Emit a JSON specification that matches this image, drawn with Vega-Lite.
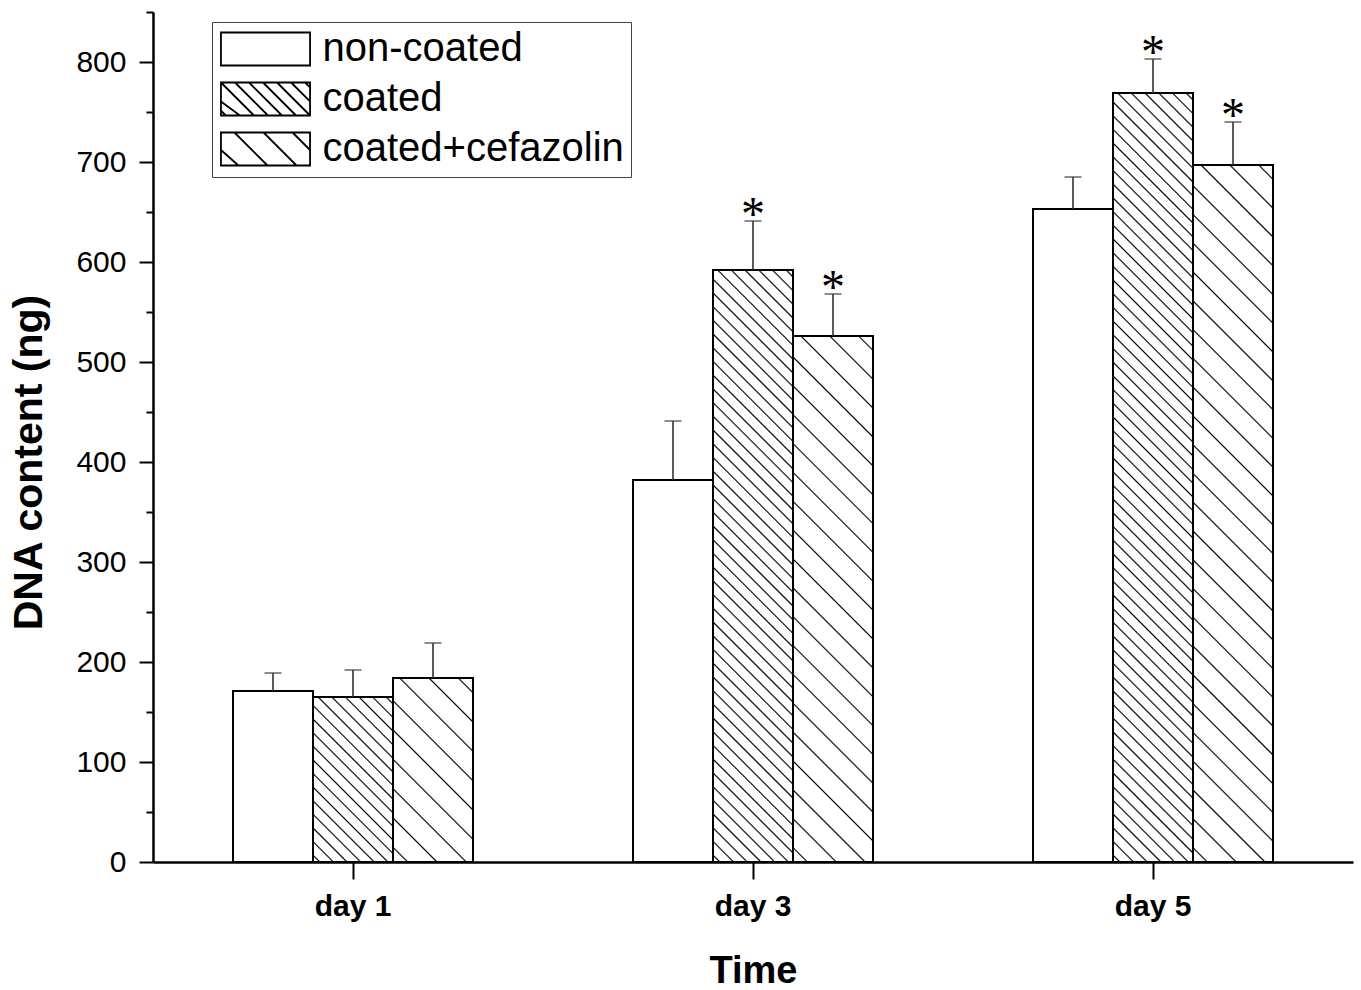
{
"$schema": "https://vega.github.io/schema/vega-lite/v6.json",
"width": 1200, "height": 850,
"autosize": "none",
"padding": {"left": 153, "top": 12, "right": 8, "bottom": 128},
"background": "white",
"config": {"view": {"stroke": null}, "font": "Liberation Sans"},
"data": {"values": [
{"day": "day 1", "series": "non-coated", "value": 171, "upper": 189, "sig": false},
{"day": "day 1", "series": "coated", "value": 165, "upper": 192, "sig": false},
{"day": "day 1", "series": "coated+cefazolin", "value": 184, "upper": 219, "sig": false},
{"day": "day 3", "series": "non-coated", "value": 382, "upper": 441, "sig": false},
{"day": "day 3", "series": "coated", "value": 592, "upper": 641, "sig": true},
{"day": "day 3", "series": "coated+cefazolin", "value": 526, "upper": 568, "sig": true},
{"day": "day 5", "series": "non-coated", "value": 653, "upper": 685, "sig": false},
{"day": "day 5", "series": "coated", "value": 769, "upper": 803, "sig": true},
{"day": "day 5", "series": "coated+cefazolin", "value": 697, "upper": 740, "sig": true}
]},
"encoding": {
  "x": {"field": "day", "type": "nominal", "scale": {"paddingInner": 0, "paddingOuter": 0},
    "axis": {"title": "Time", "labelAngle": 0, "labelFont": "Liberation Sans", "labelFontSize": 30, "labelFontWeight": "bold", "labelColor": "black", "labelPadding": 12, "tickSize": 17, "tickWidth": 2, "tickColor": "black", "domainColor": "black", "domainWidth": 2.5, "titleFont": "Liberation Sans", "titleFontSize": 38, "titleFontWeight": "bold", "titleColor": "black", "titleY": 120, "titleBaseline": "alphabetic", "grid": false}},
  "xOffset": {"field": "series", "type": "nominal", "scale": {"domain": ["non-coated", "coated", "coated+cefazolin"], "paddingInner": 0, "paddingOuter": 1}},
  "y": {"field": "value", "type": "quantitative", "scale": {"domain": [0, 850], "nice": false},
    "axis": {"title": "DNA content (ng)", "values": [0,50,100,150,200,250,300,350,400,450,500,550,600,650,700,750,800,850],
      "labelExpr": "datum.value % 100 === 0 ? datum.label : ''",
      "tickSize": {"condition": {"test": "datum.value % 100 === 0", "value": 14}, "value": 7},
      "labelPadding": 13, "labelFont": "Liberation Sans", "labelFontSize": 30, "labelColor": "black", "labelOverlap": false, "labelFlush": false,
      "domainColor": "black", "domainWidth": 2.5, "tickColor": "black", "tickWidth": 2, "grid": false,
      "titleFont": "Liberation Sans", "titleFontSize": 41, "titleFontWeight": "bold", "titleColor": "black",
      "titleAngle": 270, "titleBaseline": "alphabetic", "titleAlign": "center", "titleX": -112, "titleY": 450}}
},
"layer": [
{"mark": {"type": "bar", "fill": "white", "stroke": "black", "strokeWidth": 2}},
{"transform": [{"filter": "datum.day == 'day 1' && datum.series == 'coated'"}],
 "mark": {"type": "bar", "stroke": "black", "strokeWidth": 2, "fill": {"gradient": "linear", "x1": 0, "y1": 1, "x2": 0.5829, "y2": -0.2022, "stops": [
{"offset":0.0213,"color":"#fff"},{"offset":0.0278,"color":"#000"},{"offset":0.0343,"color":"#fff"},
{"offset":0.0768,"color":"#fff"},{"offset":0.0833,"color":"#000"},{"offset":0.0898,"color":"#fff"},
{"offset":0.1324,"color":"#fff"},{"offset":0.1389,"color":"#000"},{"offset":0.1454,"color":"#fff"},
{"offset":0.1879,"color":"#fff"},{"offset":0.1944,"color":"#000"},{"offset":0.2009,"color":"#fff"},
{"offset":0.2435,"color":"#fff"},{"offset":0.25,"color":"#000"},{"offset":0.2565,"color":"#fff"},
{"offset":0.2991,"color":"#fff"},{"offset":0.3056,"color":"#000"},{"offset":0.3121,"color":"#fff"},
{"offset":0.3546,"color":"#fff"},{"offset":0.3611,"color":"#000"},{"offset":0.3676,"color":"#fff"},
{"offset":0.4102,"color":"#fff"},{"offset":0.4167,"color":"#000"},{"offset":0.4232,"color":"#fff"},
{"offset":0.4657,"color":"#fff"},{"offset":0.4722,"color":"#000"},{"offset":0.4787,"color":"#fff"},
{"offset":0.5213,"color":"#fff"},{"offset":0.5278,"color":"#000"},{"offset":0.5343,"color":"#fff"},
{"offset":0.5768,"color":"#fff"},{"offset":0.5833,"color":"#000"},{"offset":0.5898,"color":"#fff"},
{"offset":0.6324,"color":"#fff"},{"offset":0.6389,"color":"#000"},{"offset":0.6454,"color":"#fff"},
{"offset":0.6879,"color":"#fff"},{"offset":0.6944,"color":"#000"},{"offset":0.7009,"color":"#fff"},
{"offset":0.7435,"color":"#fff"},{"offset":0.75,"color":"#000"},{"offset":0.7565,"color":"#fff"},
{"offset":0.7991,"color":"#fff"},{"offset":0.8056,"color":"#000"},{"offset":0.8121,"color":"#fff"},
{"offset":0.8546,"color":"#fff"},{"offset":0.8611,"color":"#000"},{"offset":0.8676,"color":"#fff"},
{"offset":0.9102,"color":"#fff"},{"offset":0.9167,"color":"#000"},{"offset":0.9232,"color":"#fff"},
{"offset":0.9657,"color":"#fff"},{"offset":0.9722,"color":"#000"},{"offset":0.9787,"color":"#fff"}
]}}},
{"transform": [{"filter": "datum.day == 'day 3' && datum.series == 'coated'"}],
 "mark": {"type": "bar", "stroke": "black", "strokeWidth": 2, "fill": {"gradient": "linear", "x1": 0, "y1": 1, "x2": 0.150646, "y2": -0.114783, "stops": [
{"offset":0.0078,"color":"#fff"},{"offset":0.0102,"color":"#000"},{"offset":0.0126,"color":"#fff"},
{"offset":0.0282,"color":"#fff"},{"offset":0.0306,"color":"#000"},{"offset":0.0330,"color":"#fff"},
{"offset":0.0486,"color":"#fff"},{"offset":0.0510,"color":"#000"},{"offset":0.0534,"color":"#fff"},
{"offset":0.0690,"color":"#fff"},{"offset":0.0714,"color":"#000"},{"offset":0.0738,"color":"#fff"},
{"offset":0.0894,"color":"#fff"},{"offset":0.0918,"color":"#000"},{"offset":0.0942,"color":"#fff"},
{"offset":0.1098,"color":"#fff"},{"offset":0.1122,"color":"#000"},{"offset":0.1146,"color":"#fff"},
{"offset":0.1303,"color":"#fff"},{"offset":0.1327,"color":"#000"},{"offset":0.1351,"color":"#fff"},
{"offset":0.1507,"color":"#fff"},{"offset":0.1531,"color":"#000"},{"offset":0.1555,"color":"#fff"},
{"offset":0.1711,"color":"#fff"},{"offset":0.1735,"color":"#000"},{"offset":0.1759,"color":"#fff"},
{"offset":0.1915,"color":"#fff"},{"offset":0.1939,"color":"#000"},{"offset":0.1963,"color":"#fff"},
{"offset":0.2119,"color":"#fff"},{"offset":0.2143,"color":"#000"},{"offset":0.2167,"color":"#fff"},
{"offset":0.2323,"color":"#fff"},{"offset":0.2347,"color":"#000"},{"offset":0.2371,"color":"#fff"},
{"offset":0.2527,"color":"#fff"},{"offset":0.2551,"color":"#000"},{"offset":0.2575,"color":"#fff"},
{"offset":0.2731,"color":"#fff"},{"offset":0.2755,"color":"#000"},{"offset":0.2779,"color":"#fff"},
{"offset":0.2935,"color":"#fff"},{"offset":0.2959,"color":"#000"},{"offset":0.2983,"color":"#fff"},
{"offset":0.3139,"color":"#fff"},{"offset":0.3163,"color":"#000"},{"offset":0.3187,"color":"#fff"},
{"offset":0.3343,"color":"#fff"},{"offset":0.3367,"color":"#000"},{"offset":0.3391,"color":"#fff"},
{"offset":0.3547,"color":"#fff"},{"offset":0.3571,"color":"#000"},{"offset":0.3595,"color":"#fff"},
{"offset":0.3752,"color":"#fff"},{"offset":0.3776,"color":"#000"},{"offset":0.3800,"color":"#fff"},
{"offset":0.3956,"color":"#fff"},{"offset":0.3980,"color":"#000"},{"offset":0.4004,"color":"#fff"},
{"offset":0.4160,"color":"#fff"},{"offset":0.4184,"color":"#000"},{"offset":0.4208,"color":"#fff"},
{"offset":0.4364,"color":"#fff"},{"offset":0.4388,"color":"#000"},{"offset":0.4412,"color":"#fff"},
{"offset":0.4568,"color":"#fff"},{"offset":0.4592,"color":"#000"},{"offset":0.4616,"color":"#fff"},
{"offset":0.4772,"color":"#fff"},{"offset":0.4796,"color":"#000"},{"offset":0.4820,"color":"#fff"},
{"offset":0.4976,"color":"#fff"},{"offset":0.5000,"color":"#000"},{"offset":0.5024,"color":"#fff"},
{"offset":0.5180,"color":"#fff"},{"offset":0.5204,"color":"#000"},{"offset":0.5228,"color":"#fff"},
{"offset":0.5384,"color":"#fff"},{"offset":0.5408,"color":"#000"},{"offset":0.5432,"color":"#fff"},
{"offset":0.5588,"color":"#fff"},{"offset":0.5612,"color":"#000"},{"offset":0.5636,"color":"#fff"},
{"offset":0.5792,"color":"#fff"},{"offset":0.5816,"color":"#000"},{"offset":0.5840,"color":"#fff"},
{"offset":0.5996,"color":"#fff"},{"offset":0.6020,"color":"#000"},{"offset":0.6044,"color":"#fff"},
{"offset":0.6200,"color":"#fff"},{"offset":0.6224,"color":"#000"},{"offset":0.6248,"color":"#fff"},
{"offset":0.6405,"color":"#fff"},{"offset":0.6429,"color":"#000"},{"offset":0.6453,"color":"#fff"},
{"offset":0.6609,"color":"#fff"},{"offset":0.6633,"color":"#000"},{"offset":0.6657,"color":"#fff"},
{"offset":0.6813,"color":"#fff"},{"offset":0.6837,"color":"#000"},{"offset":0.6861,"color":"#fff"},
{"offset":0.7017,"color":"#fff"},{"offset":0.7041,"color":"#000"},{"offset":0.7065,"color":"#fff"},
{"offset":0.7221,"color":"#fff"},{"offset":0.7245,"color":"#000"},{"offset":0.7269,"color":"#fff"},
{"offset":0.7425,"color":"#fff"},{"offset":0.7449,"color":"#000"},{"offset":0.7473,"color":"#fff"},
{"offset":0.7629,"color":"#fff"},{"offset":0.7653,"color":"#000"},{"offset":0.7677,"color":"#fff"},
{"offset":0.7833,"color":"#fff"},{"offset":0.7857,"color":"#000"},{"offset":0.7881,"color":"#fff"},
{"offset":0.8037,"color":"#fff"},{"offset":0.8061,"color":"#000"},{"offset":0.8085,"color":"#fff"},
{"offset":0.8241,"color":"#fff"},{"offset":0.8265,"color":"#000"},{"offset":0.8289,"color":"#fff"},
{"offset":0.8445,"color":"#fff"},{"offset":0.8469,"color":"#000"},{"offset":0.8493,"color":"#fff"},
{"offset":0.8649,"color":"#fff"},{"offset":0.8673,"color":"#000"},{"offset":0.8697,"color":"#fff"},
{"offset":0.8854,"color":"#fff"},{"offset":0.8878,"color":"#000"},{"offset":0.8902,"color":"#fff"},
{"offset":0.9058,"color":"#fff"},{"offset":0.9082,"color":"#000"},{"offset":0.9106,"color":"#fff"},
{"offset":0.9262,"color":"#fff"},{"offset":0.9286,"color":"#000"},{"offset":0.9310,"color":"#fff"},
{"offset":0.9466,"color":"#fff"},{"offset":0.9490,"color":"#000"},{"offset":0.9514,"color":"#fff"},
{"offset":0.9670,"color":"#fff"},{"offset":0.9694,"color":"#000"},{"offset":0.9718,"color":"#fff"},
{"offset":0.9874,"color":"#fff"},{"offset":0.9898,"color":"#000"},{"offset":0.9922,"color":"#fff"}
]}}},
{"transform": [{"filter": "datum.day == 'day 5' && datum.series == 'coated'"}],
 "mark": {"type": "bar", "stroke": "black", "strokeWidth": 2, "fill": {"gradient": "linear", "x1": 0, "y1": 1, "x2": 0.113624, "y2": -0.092211, "stops": [
{"offset":0.0062,"color":"#fff"},{"offset":0.0081,"color":"#000"},{"offset":0.0100,"color":"#fff"},
{"offset":0.0223,"color":"#fff"},{"offset":0.0242,"color":"#000"},{"offset":0.0261,"color":"#fff"},
{"offset":0.0384,"color":"#fff"},{"offset":0.0403,"color":"#000"},{"offset":0.0422,"color":"#fff"},
{"offset":0.0546,"color":"#fff"},{"offset":0.0565,"color":"#000"},{"offset":0.0584,"color":"#fff"},
{"offset":0.0707,"color":"#fff"},{"offset":0.0726,"color":"#000"},{"offset":0.0745,"color":"#fff"},
{"offset":0.0868,"color":"#fff"},{"offset":0.0887,"color":"#000"},{"offset":0.0906,"color":"#fff"},
{"offset":0.1029,"color":"#fff"},{"offset":0.1048,"color":"#000"},{"offset":0.1067,"color":"#fff"},
{"offset":0.1191,"color":"#fff"},{"offset":0.1210,"color":"#000"},{"offset":0.1229,"color":"#fff"},
{"offset":0.1352,"color":"#fff"},{"offset":0.1371,"color":"#000"},{"offset":0.1390,"color":"#fff"},
{"offset":0.1513,"color":"#fff"},{"offset":0.1532,"color":"#000"},{"offset":0.1551,"color":"#fff"},
{"offset":0.1675,"color":"#fff"},{"offset":0.1694,"color":"#000"},{"offset":0.1713,"color":"#fff"},
{"offset":0.1836,"color":"#fff"},{"offset":0.1855,"color":"#000"},{"offset":0.1874,"color":"#fff"},
{"offset":0.1997,"color":"#fff"},{"offset":0.2016,"color":"#000"},{"offset":0.2035,"color":"#fff"},
{"offset":0.2158,"color":"#fff"},{"offset":0.2177,"color":"#000"},{"offset":0.2196,"color":"#fff"},
{"offset":0.2320,"color":"#fff"},{"offset":0.2339,"color":"#000"},{"offset":0.2358,"color":"#fff"},
{"offset":0.2481,"color":"#fff"},{"offset":0.2500,"color":"#000"},{"offset":0.2519,"color":"#fff"},
{"offset":0.2642,"color":"#fff"},{"offset":0.2661,"color":"#000"},{"offset":0.2680,"color":"#fff"},
{"offset":0.2804,"color":"#fff"},{"offset":0.2823,"color":"#000"},{"offset":0.2842,"color":"#fff"},
{"offset":0.2965,"color":"#fff"},{"offset":0.2984,"color":"#000"},{"offset":0.3003,"color":"#fff"},
{"offset":0.3126,"color":"#fff"},{"offset":0.3145,"color":"#000"},{"offset":0.3164,"color":"#fff"},
{"offset":0.3288,"color":"#fff"},{"offset":0.3307,"color":"#000"},{"offset":0.3326,"color":"#fff"},
{"offset":0.3449,"color":"#fff"},{"offset":0.3468,"color":"#000"},{"offset":0.3487,"color":"#fff"},
{"offset":0.3610,"color":"#fff"},{"offset":0.3629,"color":"#000"},{"offset":0.3648,"color":"#fff"},
{"offset":0.3771,"color":"#fff"},{"offset":0.3790,"color":"#000"},{"offset":0.3809,"color":"#fff"},
{"offset":0.3933,"color":"#fff"},{"offset":0.3952,"color":"#000"},{"offset":0.3971,"color":"#fff"},
{"offset":0.4094,"color":"#fff"},{"offset":0.4113,"color":"#000"},{"offset":0.4132,"color":"#fff"},
{"offset":0.4255,"color":"#fff"},{"offset":0.4274,"color":"#000"},{"offset":0.4293,"color":"#fff"},
{"offset":0.4417,"color":"#fff"},{"offset":0.4436,"color":"#000"},{"offset":0.4455,"color":"#fff"},
{"offset":0.4578,"color":"#fff"},{"offset":0.4597,"color":"#000"},{"offset":0.4616,"color":"#fff"},
{"offset":0.4739,"color":"#fff"},{"offset":0.4758,"color":"#000"},{"offset":0.4777,"color":"#fff"},
{"offset":0.4900,"color":"#fff"},{"offset":0.4919,"color":"#000"},{"offset":0.4938,"color":"#fff"},
{"offset":0.5062,"color":"#fff"},{"offset":0.5081,"color":"#000"},{"offset":0.5100,"color":"#fff"},
{"offset":0.5223,"color":"#fff"},{"offset":0.5242,"color":"#000"},{"offset":0.5261,"color":"#fff"},
{"offset":0.5384,"color":"#fff"},{"offset":0.5403,"color":"#000"},{"offset":0.5422,"color":"#fff"},
{"offset":0.5546,"color":"#fff"},{"offset":0.5565,"color":"#000"},{"offset":0.5584,"color":"#fff"},
{"offset":0.5707,"color":"#fff"},{"offset":0.5726,"color":"#000"},{"offset":0.5745,"color":"#fff"},
{"offset":0.5868,"color":"#fff"},{"offset":0.5887,"color":"#000"},{"offset":0.5906,"color":"#fff"},
{"offset":0.6029,"color":"#fff"},{"offset":0.6048,"color":"#000"},{"offset":0.6067,"color":"#fff"},
{"offset":0.6191,"color":"#fff"},{"offset":0.6210,"color":"#000"},{"offset":0.6229,"color":"#fff"},
{"offset":0.6352,"color":"#fff"},{"offset":0.6371,"color":"#000"},{"offset":0.6390,"color":"#fff"},
{"offset":0.6513,"color":"#fff"},{"offset":0.6532,"color":"#000"},{"offset":0.6551,"color":"#fff"},
{"offset":0.6675,"color":"#fff"},{"offset":0.6694,"color":"#000"},{"offset":0.6713,"color":"#fff"},
{"offset":0.6836,"color":"#fff"},{"offset":0.6855,"color":"#000"},{"offset":0.6874,"color":"#fff"},
{"offset":0.6997,"color":"#fff"},{"offset":0.7016,"color":"#000"},{"offset":0.7035,"color":"#fff"},
{"offset":0.7158,"color":"#fff"},{"offset":0.7177,"color":"#000"},{"offset":0.7196,"color":"#fff"},
{"offset":0.7320,"color":"#fff"},{"offset":0.7339,"color":"#000"},{"offset":0.7358,"color":"#fff"},
{"offset":0.7481,"color":"#fff"},{"offset":0.7500,"color":"#000"},{"offset":0.7519,"color":"#fff"},
{"offset":0.7642,"color":"#fff"},{"offset":0.7661,"color":"#000"},{"offset":0.7680,"color":"#fff"},
{"offset":0.7804,"color":"#fff"},{"offset":0.7823,"color":"#000"},{"offset":0.7842,"color":"#fff"},
{"offset":0.7965,"color":"#fff"},{"offset":0.7984,"color":"#000"},{"offset":0.8003,"color":"#fff"},
{"offset":0.8126,"color":"#fff"},{"offset":0.8145,"color":"#000"},{"offset":0.8164,"color":"#fff"},
{"offset":0.8288,"color":"#fff"},{"offset":0.8307,"color":"#000"},{"offset":0.8326,"color":"#fff"},
{"offset":0.8449,"color":"#fff"},{"offset":0.8468,"color":"#000"},{"offset":0.8487,"color":"#fff"},
{"offset":0.8610,"color":"#fff"},{"offset":0.8629,"color":"#000"},{"offset":0.8648,"color":"#fff"},
{"offset":0.8771,"color":"#fff"},{"offset":0.8790,"color":"#000"},{"offset":0.8809,"color":"#fff"},
{"offset":0.8933,"color":"#fff"},{"offset":0.8952,"color":"#000"},{"offset":0.8971,"color":"#fff"},
{"offset":0.9094,"color":"#fff"},{"offset":0.9113,"color":"#000"},{"offset":0.9132,"color":"#fff"},
{"offset":0.9255,"color":"#fff"},{"offset":0.9274,"color":"#000"},{"offset":0.9293,"color":"#fff"},
{"offset":0.9417,"color":"#fff"},{"offset":0.9436,"color":"#000"},{"offset":0.9455,"color":"#fff"},
{"offset":0.9578,"color":"#fff"},{"offset":0.9597,"color":"#000"},{"offset":0.9616,"color":"#fff"},
{"offset":0.9739,"color":"#fff"},{"offset":0.9758,"color":"#000"},{"offset":0.9777,"color":"#fff"},
{"offset":0.9900,"color":"#fff"},{"offset":0.9919,"color":"#000"},{"offset":0.9938,"color":"#fff"}
]}}},
{"transform": [{"filter": "datum.day == 'day 1' && datum.series == 'coated+cefazolin'"}],
 "mark": {"type": "bar", "stroke": "black", "strokeWidth": 2, "fill": {"gradient": "linear", "x1": 0, "y1": 1, "x2": 0.524642, "y2": -0.206678, "stops": [
{"offset":0.0495,"color":"#fff"},{"offset":0.0556,"color":"#000"},{"offset":0.0617,"color":"#fff"},
{"offset":0.1606,"color":"#fff"},{"offset":0.1667,"color":"#000"},{"offset":0.1728,"color":"#fff"},
{"offset":0.2717,"color":"#fff"},{"offset":0.2778,"color":"#000"},{"offset":0.2839,"color":"#fff"},
{"offset":0.3828,"color":"#fff"},{"offset":0.3889,"color":"#000"},{"offset":0.3950,"color":"#fff"},
{"offset":0.4939,"color":"#fff"},{"offset":0.5,"color":"#000"},{"offset":0.5061,"color":"#fff"},
{"offset":0.6050,"color":"#fff"},{"offset":0.6111,"color":"#000"},{"offset":0.6172,"color":"#fff"},
{"offset":0.7161,"color":"#fff"},{"offset":0.7222,"color":"#000"},{"offset":0.7283,"color":"#fff"},
{"offset":0.8272,"color":"#fff"},{"offset":0.8333,"color":"#000"},{"offset":0.8394,"color":"#fff"},
{"offset":0.9383,"color":"#fff"},{"offset":0.9444,"color":"#000"},{"offset":0.9505,"color":"#fff"}
]}}},
{"transform": [{"filter": "datum.day == 'day 3' && datum.series == 'coated+cefazolin'"}],
 "mark": {"type": "bar", "stroke": "black", "strokeWidth": 2, "fill": {"gradient": "linear", "x1": 0, "y1": 1, "x2": 0.171262, "y2": -0.12605, "stops": [
{"offset":0.0212,"color":"#fff"},{"offset":0.0238,"color":"#000"},{"offset":0.0264,"color":"#fff"},
{"offset":0.0688,"color":"#fff"},{"offset":0.0714,"color":"#000"},{"offset":0.0740,"color":"#fff"},
{"offset":0.1164,"color":"#fff"},{"offset":0.1190,"color":"#000"},{"offset":0.1216,"color":"#fff"},
{"offset":0.1641,"color":"#fff"},{"offset":0.1667,"color":"#000"},{"offset":0.1693,"color":"#fff"},
{"offset":0.2117,"color":"#fff"},{"offset":0.2143,"color":"#000"},{"offset":0.2169,"color":"#fff"},
{"offset":0.2593,"color":"#fff"},{"offset":0.2619,"color":"#000"},{"offset":0.2645,"color":"#fff"},
{"offset":0.3069,"color":"#fff"},{"offset":0.3095,"color":"#000"},{"offset":0.3121,"color":"#fff"},
{"offset":0.3545,"color":"#fff"},{"offset":0.3571,"color":"#000"},{"offset":0.3597,"color":"#fff"},
{"offset":0.4022,"color":"#fff"},{"offset":0.4048,"color":"#000"},{"offset":0.4074,"color":"#fff"},
{"offset":0.4498,"color":"#fff"},{"offset":0.4524,"color":"#000"},{"offset":0.4550,"color":"#fff"},
{"offset":0.4974,"color":"#fff"},{"offset":0.5000,"color":"#000"},{"offset":0.5026,"color":"#fff"},
{"offset":0.5450,"color":"#fff"},{"offset":0.5476,"color":"#000"},{"offset":0.5502,"color":"#fff"},
{"offset":0.5926,"color":"#fff"},{"offset":0.5952,"color":"#000"},{"offset":0.5978,"color":"#fff"},
{"offset":0.6403,"color":"#fff"},{"offset":0.6429,"color":"#000"},{"offset":0.6455,"color":"#fff"},
{"offset":0.6879,"color":"#fff"},{"offset":0.6905,"color":"#000"},{"offset":0.6931,"color":"#fff"},
{"offset":0.7355,"color":"#fff"},{"offset":0.7381,"color":"#000"},{"offset":0.7407,"color":"#fff"},
{"offset":0.7831,"color":"#fff"},{"offset":0.7857,"color":"#000"},{"offset":0.7883,"color":"#fff"},
{"offset":0.8307,"color":"#fff"},{"offset":0.8333,"color":"#000"},{"offset":0.8359,"color":"#fff"},
{"offset":0.8784,"color":"#fff"},{"offset":0.8810,"color":"#000"},{"offset":0.8836,"color":"#fff"},
{"offset":0.9260,"color":"#fff"},{"offset":0.9286,"color":"#000"},{"offset":0.9312,"color":"#fff"},
{"offset":0.9736,"color":"#fff"},{"offset":0.9762,"color":"#000"},{"offset":0.9788,"color":"#fff"}
]}}},
{"transform": [{"filter": "datum.day == 'day 5' && datum.series == 'coated+cefazolin'"}],
 "mark": {"type": "bar", "stroke": "black", "strokeWidth": 2, "fill": {"gradient": "linear", "x1": 0, "y1": 1, "x2": 0.126287, "y2": -0.100277, "stops": [
{"offset":0.0164,"color":"#fff"},{"offset":0.0185,"color":"#000"},{"offset":0.0206,"color":"#fff"},
{"offset":0.0535,"color":"#fff"},{"offset":0.0556,"color":"#000"},{"offset":0.0577,"color":"#fff"},
{"offset":0.0905,"color":"#fff"},{"offset":0.0926,"color":"#000"},{"offset":0.0947,"color":"#fff"},
{"offset":0.1275,"color":"#fff"},{"offset":0.1296,"color":"#000"},{"offset":0.1317,"color":"#fff"},
{"offset":0.1646,"color":"#fff"},{"offset":0.1667,"color":"#000"},{"offset":0.1688,"color":"#fff"},
{"offset":0.2016,"color":"#fff"},{"offset":0.2037,"color":"#000"},{"offset":0.2058,"color":"#fff"},
{"offset":0.2386,"color":"#fff"},{"offset":0.2407,"color":"#000"},{"offset":0.2428,"color":"#fff"},
{"offset":0.2757,"color":"#fff"},{"offset":0.2778,"color":"#000"},{"offset":0.2799,"color":"#fff"},
{"offset":0.3127,"color":"#fff"},{"offset":0.3148,"color":"#000"},{"offset":0.3169,"color":"#fff"},
{"offset":0.3498,"color":"#fff"},{"offset":0.3519,"color":"#000"},{"offset":0.3540,"color":"#fff"},
{"offset":0.3868,"color":"#fff"},{"offset":0.3889,"color":"#000"},{"offset":0.3910,"color":"#fff"},
{"offset":0.4238,"color":"#fff"},{"offset":0.4259,"color":"#000"},{"offset":0.4280,"color":"#fff"},
{"offset":0.4609,"color":"#fff"},{"offset":0.4630,"color":"#000"},{"offset":0.4651,"color":"#fff"},
{"offset":0.4979,"color":"#fff"},{"offset":0.5000,"color":"#000"},{"offset":0.5021,"color":"#fff"},
{"offset":0.5349,"color":"#fff"},{"offset":0.5370,"color":"#000"},{"offset":0.5391,"color":"#fff"},
{"offset":0.5720,"color":"#fff"},{"offset":0.5741,"color":"#000"},{"offset":0.5762,"color":"#fff"},
{"offset":0.6090,"color":"#fff"},{"offset":0.6111,"color":"#000"},{"offset":0.6132,"color":"#fff"},
{"offset":0.6460,"color":"#fff"},{"offset":0.6481,"color":"#000"},{"offset":0.6502,"color":"#fff"},
{"offset":0.6831,"color":"#fff"},{"offset":0.6852,"color":"#000"},{"offset":0.6873,"color":"#fff"},
{"offset":0.7201,"color":"#fff"},{"offset":0.7222,"color":"#000"},{"offset":0.7243,"color":"#fff"},
{"offset":0.7572,"color":"#fff"},{"offset":0.7593,"color":"#000"},{"offset":0.7614,"color":"#fff"},
{"offset":0.7942,"color":"#fff"},{"offset":0.7963,"color":"#000"},{"offset":0.7984,"color":"#fff"},
{"offset":0.8312,"color":"#fff"},{"offset":0.8333,"color":"#000"},{"offset":0.8354,"color":"#fff"},
{"offset":0.8683,"color":"#fff"},{"offset":0.8704,"color":"#000"},{"offset":0.8725,"color":"#fff"},
{"offset":0.9053,"color":"#fff"},{"offset":0.9074,"color":"#000"},{"offset":0.9095,"color":"#fff"},
{"offset":0.9423,"color":"#fff"},{"offset":0.9444,"color":"#000"},{"offset":0.9465,"color":"#fff"},
{"offset":0.9794,"color":"#fff"},{"offset":0.9815,"color":"#000"},{"offset":0.9836,"color":"#fff"}
]}}},
{"mark": {"type": "rule", "color": "#333", "strokeWidth": 1.6},
 "encoding": {"y2": {"field": "upper"}}},
{"mark": {"type": "tick", "orient": "horizontal", "size": 17, "thickness": 1.6, "color": "#333"},
 "encoding": {"y": {"field": "upper", "type": "quantitative"}}},
{"transform": [{"filter": "datum.sig"}],
 "mark": {"type": "text", "text": "*", "font": "Liberation Serif", "fontSize": 48, "baseline": "alphabetic", "align": "center", "dy": 9, "color": "black"},
 "encoding": {"y": {"field": "upper", "type": "quantitative"}}},
{"transform": [{"filter": "false"}],
 "mark": {"type": "point", "filled": false, "color": "black"},
 "encoding": {"shape": {"field": "series", "type": "nominal",
   "scale": {"domain": ["non-coated", "coated", "coated+cefazolin"],
     "range": ["M-2.7,-1H2.7V1H-2.7Z",
               "M-2.7,-1H2.7V1H-2.7ZM-2.7,0.7L-2.4,1M-2.7,0.15L-1.55,1M-2.7,-1L-0.7,1M-1.85,-1L0.15,1M-1,-1L1,1M-0.15,-1L1.85,1M0.7,-1L2.7,1M1.55,-1L2.7,0.15M2.4,-1L2.7,-0.7",
               "M-2.7,-1H2.7V1H-2.7ZM-2.7,0.06L-1.64,1M-1.88,-1L0.12,1M-0.12,-1L1.88,1M1.64,-1L2.7,0.06"]},
   "legend": {"title": null, "orient": "none", "legendX": 59, "legendY": 10, "padding": 7, "rowPadding": 8,
     "symbolSize": 1089, "symbolOffset": 26.5, "labelOffset": 37, "labelFont": "Liberation Sans", "labelFontSize": 40,
     "labelColor": "black", "labelLimit": 400, "strokeColor": "#444", "fillColor": "white",
     "symbolStrokeColor": "black", "symbolStrokeWidth": 1.8, "symbolFillColor": "white", "symbolOpacity": 1}}}}
]
}
